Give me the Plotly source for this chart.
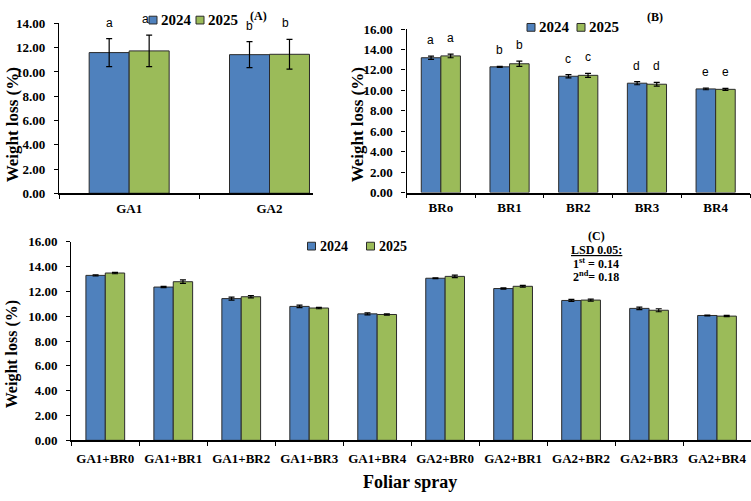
import plotly.graph_objects as go

# ---------------- data ----------------
years = ["2024", "2025"]
colors = ["#4F81BD", "#9BBB59"]

ga_cats = ["GA1", "GA2"]
ga_2024 = [11.60, 11.43]
ga_2025 = [11.74, 11.46]
ga_err_2024 = [1.15, 1.07]
ga_err_2025 = [1.30, 1.23]
ga_let_2024 = ["a", "b"]
ga_let_2025 = ["a", "b"]

br_cats = ["BRo", "BR1", "BR2", "BR3", "BR4"]
br_2024 = [13.19, 12.30, 11.38, 10.70, 10.14]
br_2025 = [13.37, 12.60, 11.47, 10.60, 10.10]
br_err_2024 = [0.15, 0.05, 0.15, 0.15, 0.08]
br_err_2025 = [0.18, 0.25, 0.20, 0.18, 0.10]
br_let_2024 = ["a", "b", "c", "d", "e"]
br_let_2025 = ["a", "b", "c", "d", "e"]

c_cats = ["GA1+BR0", "GA1+BR1", "GA1+BR2", "GA1+BR3", "GA1+BR4",
          "GA2+BR0", "GA2+BR1", "GA2+BR2", "GA2+BR3", "GA2+BR4"]
c_2024 = [13.29, 12.35, 11.42, 10.79, 10.19, 13.06, 12.23, 11.27, 10.63, 10.06]
c_2025 = [13.48, 12.78, 11.57, 10.66, 10.14, 13.21, 12.41, 11.30, 10.48, 10.01]
c_err_2024 = [0.05, 0.05, 0.12, 0.10, 0.08, 0.03, 0.05, 0.08, 0.10, 0.03]
c_err_2025 = [0.06, 0.14, 0.10, 0.06, 0.06, 0.10, 0.07, 0.08, 0.12, 0.05]

y_title = "Weight loss (%)"
x_title_c = "Foliar spray"
lsd_lines = ["<u>LSD 0.05:</u>", "1<sup>st</sup> = 0.14", "2<sup>nd</sup>= 0.18"]

SERIF = "Liberation Serif, Times New Roman, serif"
SANS = "Liberation Sans, Arial, sans-serif"
W, H = 751, 501

fig = go.Figure()

def add_pair(cats, v1, v2, e1, e2, xa, ya):
    for name, vals, errs, col in [(years[0], v1, e1, colors[0]), (years[1], v2, e2, colors[1])]:
        fig.add_trace(go.Bar(
            x=cats, y=vals, name=name, xaxis=xa, yaxis=ya,
            marker=dict(color=col, line=dict(color="#2b2b2b", width=1)),
            error_y=dict(type="data", array=errs, visible=True, color="black",
                         thickness=1.2, width=3),
            showlegend=False,
        ))

add_pair(ga_cats, ga_2024, ga_2025, ga_err_2024, ga_err_2025, "x", "y")
add_pair(br_cats, br_2024, br_2025, br_err_2024, br_err_2025, "x2", "y2")
add_pair(c_cats, c_2024, c_2025, c_err_2024, c_err_2025, "x3", "y3")

tickfont = dict(family=SERIF, size=13, color="black", weight="bold")

def yaxis(domain, anchor, rng, dtick):
    return dict(domain=domain, anchor=anchor, range=rng, dtick=dtick, tickformat=".2f",
                showline=True, linecolor="black", linewidth=1.2, ticks="outside",
                ticklen=4, tickcolor="black", showgrid=False, zeroline=False,
                ticklabelstandoff=6, tickfont=tickfont)

def xaxis(domain, anchor, rng, standoff):
    return dict(domain=domain, anchor=anchor, range=rng, type="category",
                showline=True, linecolor="black", linewidth=1.5, ticks="outside",
                tickson="boundaries", ticklen=4, tickcolor="black", showgrid=False,
                ticklabelstandoff=standoff, tickfont=tickfont)

fig.update_layout(
    width=W, height=H, margin=dict(l=0, r=0, t=0, b=0),
    paper_bgcolor="white", plot_bgcolor="white",
    barmode="group", bargap=0.43, bargroupgap=0, showlegend=False,
    xaxis=xaxis([59 / W, 313 / W], "y", [-0.5, 1.31], 2),
    yaxis=yaxis([1 - 192 / H, 1 - 17 / H], "x", [0, 14], 2),
    xaxis2=xaxis([406.5 / W, 750 / W], "y2", [-0.5, 4.5], 2),
    yaxis2=yaxis([1 - 191.3 / H, 1 - 22.7 / H], "x2", [0, 16], 2),
    xaxis3=xaxis([71.3 / W, 1.0], "y3", [-0.5, 9.5], 5),
    yaxis3=yaxis([1 - 446.7 / H, 1 - 242 / H], "x3", [0, 16], 2),
)

ann = []
shapes = []

# significance letters
def letters(cats, vals, errs, lets, xa, ya, shift):
    for c, v, e, l in zip(cats, vals, errs, lets):
        ann.append(dict(x=c, y=v + e, xref=xa, yref=ya, text=l, showarrow=False,
                        yanchor="bottom", xshift=shift, yshift=7,
                        font=dict(family=SANS, size=12, color="#000000")))

letters(ga_cats, ga_2024, ga_err_2024, ga_let_2024, "x", "y", -20)
letters(ga_cats, ga_2025, ga_err_2025, ga_let_2025, "x", "y", 16)
letters(br_cats, br_2024, br_err_2024, br_let_2024, "x2", "y2", -10)
letters(br_cats, br_2025, br_err_2025, br_let_2025, "x2", "y2", 10)

# manual legends (small square swatches close to the text, as in the reference)
def legend(x_swatches, y_center, size, fontsize):
    for xs, col, name in zip(x_swatches, colors, years):
        shapes.append(dict(type="rect", xref="paper", yref="paper",
                           x0=xs / W, x1=(xs + size) / W,
                           y0=1 - (y_center + size / 2) / H, y1=1 - (y_center - size / 2) / H,
                           fillcolor=col, line=dict(color="#2b2b2b", width=1)))
        ann.append(dict(x=(xs + size + 2) / W, y=1 - y_center / H, xref="paper", yref="paper",
                        xanchor="left", yanchor="middle", text=name, showarrow=False,
                        font=dict(family=SERIF, size=fontsize, color="black", weight="bold")))

legend([149, 196], 13.5, 8, 15)
legend([527, 577], 21, 8, 15)
legend([307.5, 366.5], 246.5, 8, 14)

def paper_text(x, y, text, size, angle=0):
    ann.append(dict(x=x / W, y=1 - y / H, xref="paper", yref="paper", xanchor="center",
                    yanchor="middle", text=text, textangle=angle, showarrow=False,
                    font=dict(family=SERIF, size=size, color="black", weight="bold")))

paper_text(12, 122, y_title, 17, -90)
paper_text(357, 122, y_title, 17, -90)
paper_text(12, 358, y_title, 16, -90)
paper_text(410, 490, x_title_c, 18)
paper_text(258, 9, "(A)", 12)
paper_text(655, 10, "(B)", 12)
paper_text(596, 236, "(C)", 12)
for i, line in enumerate(lsd_lines):
    paper_text(596, 251 + 13.5 * i, line, 12)

fig.update_layout(annotations=ann, shapes=shapes)

fig.write_html("out.html")
